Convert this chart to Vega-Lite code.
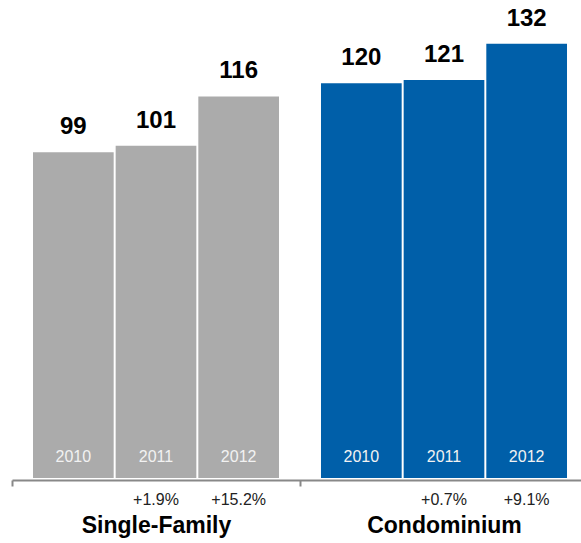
{
  "$schema": "https://vega.github.io/schema/vega-lite/v6.json",
  "width": 569,
  "height": 478,
  "autosize": {"type": "none"},
  "padding": {"left": 12, "top": 0, "right": 0, "bottom": 65},
  "background": "white",
  "config": {"view": {"stroke": null}, "font": "Liberation Sans"},
  "data": {
    "values": [
      {"group": "Single-Family", "year": "2010", "value": 99, "change": ""},
      {"group": "Single-Family", "year": "2011", "value": 101, "change": "+1.9%"},
      {"group": "Single-Family", "year": "2012", "value": 116, "change": "+15.2%"},
      {"group": "Condominium", "year": "2010", "value": 120, "change": ""},
      {"group": "Condominium", "year": "2011", "value": 121, "change": "+0.7%"},
      {"group": "Condominium", "year": "2012", "value": 132, "change": "+9.1%"}
    ]
  },
  "encoding": {
    "x": {
      "field": "group",
      "type": "nominal",
      "sort": ["Single-Family", "Condominium"],
      "scale": {"range": [0, 576], "paddingInner": 0.1458, "paddingOuter": 0.0729},
      "axis": {
        "title": null,
        "offset": 2,
        "domainColor": "#888888",
        "domainWidth": 2,
        "bandPosition": 0,
        "tickOffset": -21,
        "labelOffset": 21,
        "tickColor": "#888888",
        "tickWidth": 2,
        "tickSize": 6,
        "labelAngle": 0,
        "labelFont": "Liberation Sans",
        "labelFontSize": 23,
        "labelFontWeight": "bold",
        "labelColor": "#000000",
        "labelBaseline": "alphabetic",
        "labelPadding": 46
      }
    },
    "xOffset": {
      "field": "year",
      "type": "ordinal",
      "scale": {"paddingInner": 0.024, "paddingOuter": 0}
    },
    "y": {
      "field": "value",
      "type": "quantitative",
      "scale": {"domain": [0, 145.3], "nice": false, "zero": true},
      "axis": null
    }
  },
  "layer": [
    {
      "mark": {"type": "bar"},
      "encoding": {
        "color": {
          "field": "group",
          "type": "nominal",
          "scale": {"domain": ["Single-Family", "Condominium"], "range": ["#ABABAB", "#005FA9"]},
          "legend": null
        }
      }
    },
    {
      "mark": {"type": "text", "dy": -18, "baseline": "alphabetic", "fontSize": 24, "fontWeight": "bold", "color": "#000000"},
      "encoding": {"text": {"field": "value", "type": "quantitative"}}
    },
    {
      "mark": {"type": "text", "dy": -16, "baseline": "alphabetic", "fontSize": 16, "color": "#F2F2F2"},
      "encoding": {
        "y": {"datum": 0, "type": "quantitative"},
        "text": {"field": "year", "type": "ordinal"}
      }
    },
    {
      "mark": {"type": "text", "dy": 27, "baseline": "alphabetic", "fontSize": 16, "color": "#222222"},
      "encoding": {
        "y": {"datum": 0, "type": "quantitative"},
        "text": {"field": "change", "type": "nominal"}
      }
    }
  ]
}
